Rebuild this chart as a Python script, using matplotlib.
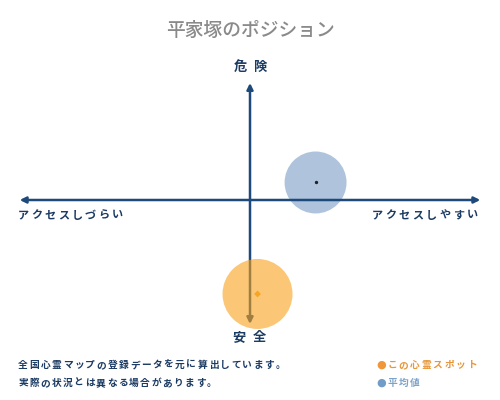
import matplotlib
matplotlib.use("Agg")
import matplotlib.pyplot as plt

plt.rcParams['font.family'] = ['Noto Sans CJK JP', 'DejaVu Sans']

# ---- data ----
title = "平家塚のポジション"
label_top = "危険"
label_bottom = "安全"
label_left = "アクセスしづらい"
label_right = "アクセスしやすい"
series_names = ["この心霊スポット", "平均値"]
series_x = [0.032, 0.279]      # access (-1 hard .. +1 easy)
series_y = [-0.783, 0.146]     # danger (-1 safe .. +1 dangerous)
note_lines = ["全国心霊マップの登録データを元に算出しています。",
              "実際の状況とは異なる場合があります。"]

NAVY = '#1d4a7a'
TEXT_NAVY = '#1c3b63'
ORANGE_FILL = '#f9a11b'
BLUE_FILL = '#afc4dc'

W, H = 500, 400
fig = plt.figure(figsize=(W / 100, H / 100), dpi=100)
fig.patch.set_facecolor('white')

def fx(px):
    return px / W

def fy(py):
    return 1 - py / H

def spaced(x0, y, s, step, size, color, weight='bold'):
    for i, ch in enumerate(s):
        fig.text(fx(x0 + i * step), fy(y), ch, ha='center', va='center',
                 fontsize=size, color=color, fontweight=weight)

# main axes: x [-1,1] -> px 15..485, y [-1,1] -> px 320..80
ax = fig.add_axes([fx(15), fy(320), (485 - 15) / W, (320 - 80) / H])
ax.set_xlim(-1, 1)
ax.set_ylim(-1, 1)
ax.axis('off')

# average circle (under axes)
ax.scatter([series_x[1]], [series_y[1]], s=1990, color=BLUE_FILL,
           edgecolors='none', zorder=1, clip_on=False)

# axes arrows
ax.annotate('', xy=(0.99, 0.5), xytext=(0.01, 0.5), xycoords='axes fraction',
            textcoords='axes fraction',
            arrowprops=dict(arrowstyle='<|-|>', lw=1.8, color=NAVY,
                            mutation_scale=9, shrinkA=0, shrinkB=0), zorder=2)
ax.annotate('', xy=(0.5, 1 - (83 - 80) / 240), xytext=(0.5, 1 - (324 - 80) / 240),
            xycoords='axes fraction', textcoords='axes fraction',
            arrowprops=dict(arrowstyle='<|-|>', lw=1.8, color=NAVY,
                            mutation_scale=9, shrinkA=0, shrinkB=0), zorder=2)

# spot circle (over axes)
ax.scatter([series_x[0]], [series_y[0]], s=2540, color=ORANGE_FILL, alpha=0.6,
           edgecolors='none', zorder=3, clip_on=False)

# centre markers
ax.scatter([series_x[1]], [series_y[1]], s=2, color='#222222', zorder=4, clip_on=False)
ax.scatter([series_x[0]], [series_y[0]], s=12, marker='D', color='#f5a623',
           edgecolors='none', zorder=4, clip_on=False)

# title
fig.text(fx(250), fy(30), title, ha='center', va='center', fontsize=13.5,
         color='#8a8a8a', fontweight='medium')

# axis labels
spaced(240, 67, label_top, 20, 9.5, TEXT_NAVY)
spaced(239, 337, label_bottom, 20, 9.5, TEXT_NAVY)
spaced(23.5, 215, label_left, 13.4, 8, TEXT_NAVY)
spaced(377.5, 215, label_right, 13.5, 8, TEXT_NAVY)

# notes
spaced(23, 365, note_lines[0], 11.2, 7, TEXT_NAVY)
spaced(23, 383, note_lines[1], 11.1, 7, TEXT_NAVY)

# legend
legend_colors = ['#f0973a', '#6f9cc8']
legend_text_colors = ['#e8963a', '#7ea3c8']
for i, (name, dc, tc) in enumerate(zip(series_names, legend_colors, legend_text_colors)):
    yy = 365 + i * 18
    fig.text(fx(381), fy(yy), '●', ha='center', va='center', fontsize=8,
             color=dc, family='DejaVu Sans')
    spaced(392, yy, name, 11.4, 7, tc)

fig.savefig('out.png', dpi=100, facecolor='white')
